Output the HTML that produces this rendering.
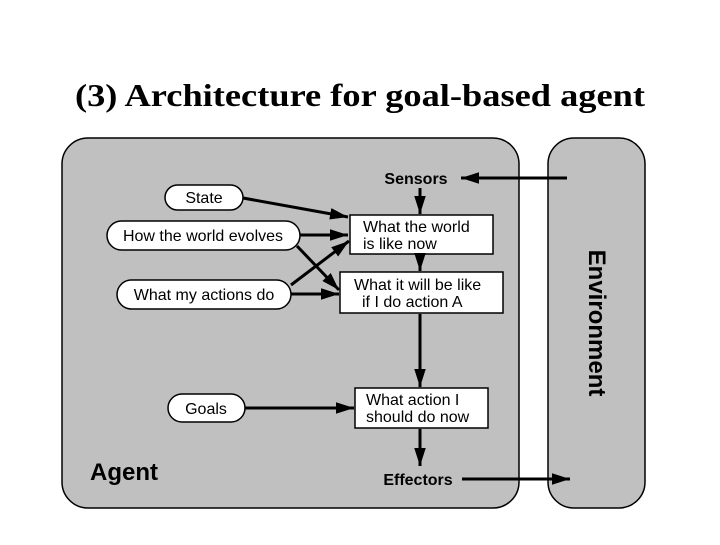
<!DOCTYPE html>
<html><head><meta charset="utf-8"><style>
body{margin:0;background:#fff;width:720px;height:540px;overflow:hidden}
</style></head><body>
<svg width="720" height="540" xmlns="http://www.w3.org/2000/svg" font-family="Liberation Sans, sans-serif">
<defs><marker id="a" viewBox="0 0 10 10" refX="10" refY="5" markerWidth="6" markerHeight="6" orient="auto" markerUnits="strokeWidth"><path d="M0,1.8 L10,5 L0,8.2 z" fill="#000"/></marker></defs>
<text x="75" y="106" textLength="570" lengthAdjust="spacingAndGlyphs" font-family="Liberation Serif, serif" font-weight="bold" font-size="32">(3) Architecture for goal-based agent</text>
<rect x="62" y="138" width="457" height="370" rx="26" fill="#c0c0c0" stroke="#000" stroke-width="1.5"/>
<rect x="548" y="138" width="97" height="370" rx="26" fill="#c0c0c0" stroke="#000" stroke-width="1.5"/>
<g stroke="#000" stroke-width="1.5" fill="#fff">
<rect x="165" y="185" width="78" height="25" rx="12.5"/>
<rect x="107" y="221" width="193" height="29" rx="14.5"/>
<rect x="117" y="280" width="174" height="29" rx="14.5"/>
<rect x="168" y="394" width="77" height="28" rx="14"/>
<rect x="350" y="215" width="143" height="39"/>
<rect x="340" y="272" width="163" height="41"/>
<rect x="355" y="388" width="133" height="40"/>
</g>
<g font-size="16" fill="#000">
<text x="204" y="203" text-anchor="middle">State</text>
<text x="203" y="241" text-anchor="middle">How the world evolves</text>
<text x="204" y="300" text-anchor="middle">What my actions do</text>
<text x="206" y="414" text-anchor="middle">Goals</text>
<text x="363" y="232">What the world</text>
<text x="363" y="249">is like now</text>
<text x="354" y="290">What it will be like</text>
<text x="362" y="307">if I do action A</text>
<text x="366" y="405">What action I</text>
<text x="366" y="422">should do now</text>
</g>
<g font-weight="bold" fill="#000">
<text x="416" y="184" text-anchor="middle" font-size="16">Sensors</text>
<text x="418" y="485" text-anchor="middle" font-size="16">Effectors</text>
<text x="90" y="480" font-size="24">Agent</text>
<text transform="translate(589,323) rotate(90)" text-anchor="middle" font-size="24">Environment</text>
</g>
<g stroke="#000" stroke-width="3" fill="none" marker-end="url(#a)">
<line x1="567" y1="178" x2="461" y2="178"/>
<line x1="462" y1="479" x2="570" y2="479"/>
<line x1="420" y1="188" x2="420" y2="214"/>
<line x1="420" y1="255" x2="420" y2="271"/>
<line x1="420" y1="314" x2="420" y2="387"/>
<line x1="420" y1="429" x2="420" y2="466"/>
<line x1="243" y1="198" x2="348" y2="217"/>
<line x1="300" y1="235" x2="348" y2="235"/>
<line x1="297" y1="246" x2="339" y2="290"/>
<line x1="291" y1="285" x2="349" y2="241"/>
<line x1="291" y1="294" x2="339" y2="294"/>
<line x1="245" y1="408" x2="354" y2="408"/>
</g>
</svg>
</body></html>
